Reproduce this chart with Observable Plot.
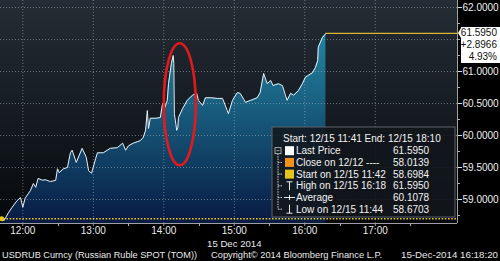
<!DOCTYPE html>
<html><head><meta charset="utf-8">
<script src="https://cdn.jsdelivr.net/npm/d3@7"></script>
<script src="https://cdn.jsdelivr.net/npm/@observablehq/plot@0.6"></script>
<style>
html,body{margin:0;padding:0;background:#000;overflow:hidden;}
svg{display:block;}
</style></head><body><div id="chart"></div>
<script>
// ---- data ----
const times = ["11:42","11:44","11:48","11:51","11:55","11:58","12:00","12:02","12:06:30","12:09","12:11","12:13","12:17","12:19","12:23:30","12:28","12:29:30","12:31","12:34:30","12:38","12:40:30","12:42","12:45:30","12:50:30","12:54","12:56","12:58:30","13:02","13:03:30","13:08:30","13:14:30","13:20:30","13:25","13:27:30","13:30","13:34","13:40","13:42:30","13:44:30","13:46","13:47","13:48:30","13:53","13:57","13:59","14:00","14:03","14:04","14:06:30","14:08","14:08:30","14:09","14:11","14:12","14:12:30","14:16","14:20","14:24:30","14:28","14:29:30","14:33","14:35:30","14:40","14:45:30","14:50","14:54","14:55","14:58:30","15:02:30","15:05","15:09:30","15:14","15:19:30","15:22","15:25","15:28","15:31","15:33","15:37:30","15:41","15:43:30","15:45","15:48","15:50:30","15:54:30","15:58","16:00:30","16:03","16:06:30","16:09","16:11","16:11:30","16:15","16:18"];
const prices = [58.70,58.67,58.80,58.88,58.98,59.03,58.88,59.02,59.14,59.25,59.19,59.33,59.30,59.31,59.28,59.30,59.48,59.42,59.48,59.50,59.73,59.77,59.58,59.80,59.66,59.45,59.41,59.64,59.73,59.73,59.80,59.81,59.88,59.77,59.84,59.88,59.92,59.97,60.08,60.39,60.11,60.27,60.27,60.28,60.50,60.39,60.55,60.81,61.13,61.25,61.13,60.34,60.08,60.13,60.28,60.42,60.55,60.63,60.66,60.55,60.47,60.59,60.59,60.58,60.58,60.39,60.34,60.55,60.67,60.66,60.52,60.55,60.59,60.67,60.97,60.81,60.86,60.78,60.81,60.78,60.63,60.55,60.66,60.63,60.70,60.81,60.91,60.94,60.98,61.06,61.17,61.38,61.53,61.595];

const xDomainStart = "11:41", xDomainEnd = "18:10";
const yDomain = [58.625, 62.11];
const hourTicks = ["12:00","13:00","14:00","15:00","16:00","17:00"];
const halfHourTicks = ["12:30","13:30","14:30","15:30","16:30","17:30"];
const yGrid = [59, 59.5, 60, 60.5, 61, 61.5, 62];
const yLabelTicks = [59, 59.5, 60, 60.5, 61, 62];   // 61.5 is hidden by the last-price callout
const yMinorTicks = [58.75, 59.25, 59.75, 60.25, 60.75, 61.25, 61.5, 61.75];

const lastPrice = 61.5950, lastTime = "16:18";
const startPrice = 58.6984;
const changeText = ["61.5950", "+2.8966", "4.93%"];
const legendHeader = "Start: 12/15 11:41 End: 12/15 18:10";
const legendLabels = ["Last Price", "Close on 12/12 ----", "Start on 12/15 11:42", "High on 12/15 16:18", "Average", "Low on 12/15 11:44"];
const legendValues = ["61.5950", "58.0139", "58.6984", "61.5950", "60.1078", "58.6703"];
const legendSwatches = ["#ffffff", "#f39218", "#e3c21c", null, null, null];
const dateLabel = "15 Dec 2014";
const footerLeft = "USDRUB Curncy (Russian Ruble SPOT (TOM))";
const footerMid = "Copyright\u00a9 2014 Bloomberg Finance L.P.";
const footerRight = "15-Dec-2014 16:18:20";
const spikeCenter = {t: "14:14", v: 60.48};

// ---- helpers ----
const parseT = s => { const [h, m, sec = 0] = s.split(":").map(Number); return new Date(Date.UTC(2014, 11, 15, h, m, sec)); };
const data = times.map((t, i) => ({t: parseT(t), v: prices[i]}));
const X0 = parseT(xDomainStart), X1 = parseT(xDomainEnd);
const FONT = "'Liberation Sans', Arial, sans-serif";

function background(index, scales, values, dim) {
  const g = d3.create("svg:g");
  const defs = g.append("defs");
  const bg = defs.append("linearGradient").attr("id", "bgGrad").attr("x1", 0).attr("y1", 0).attr("x2", 0).attr("y2", 1);
  bg.append("stop").attr("offset", 0).attr("stop-color", "#242c35");
  bg.append("stop").attr("offset", 0.55).attr("stop-color", "#141a20");
  bg.append("stop").attr("offset", 1).attr("stop-color", "#06080a");
  const ag = defs.append("linearGradient").attr("id", "areaGrad").attr("gradientUnits", "userSpaceOnUse")
    .attr("x1", 0).attr("x2", 0).attr("y1", dim.marginTop + 25).attr("y2", dim.height - dim.marginBottom);
  ag.append("stop").attr("offset", 0).attr("stop-color", "#2389a3");
  ag.append("stop").attr("offset", 0.45).attr("stop-color", "#175a7c");
  ag.append("stop").attr("offset", 1).attr("stop-color", "#081a42");
  g.append("rect").attr("x", dim.marginLeft).attr("y", dim.marginTop)
    .attr("width", dim.width - dim.marginLeft - dim.marginRight)
    .attr("height", dim.height - dim.marginTop - dim.marginBottom)
    .attr("fill", "url(#bgGrad)");
  return g.node();
}

// minor tick marks on both axes (no labels)
function minorTicks(index, scales, values, dim) {
  const g = d3.create("svg:g").attr("stroke", "#b0b0b0").attr("fill", "none");
  const bottom = dim.height - dim.marginBottom, right = dim.width - dim.marginRight;
  halfHourTicks.forEach(t => { const x = Math.round(scales.x(parseT(t))) + 0.5; g.append("line").attr("x1", x).attr("x2", x).attr("y1", bottom).attr("y2", bottom + 3); });
  yMinorTicks.forEach(v => { const y = Math.round(scales.y(v)) + 0.5; g.append("line").attr("x1", right).attr("x2", right + 3).attr("y1", y).attr("y2", y); });
  return g.node();
}

function ellipseMark(index, scales) {
  return d3.create("svg:ellipse")
    .attr("cx", scales.x(parseT(spikeCenter.t)))
    .attr("cy", scales.y(spikeCenter.v))
    .attr("rx", 16).attr("ry", 61)
    .attr("fill", "none").attr("stroke", "#e3191c").attr("stroke-width", 2.6).node();
}

function legendMark(index, scales, values, dim) {
  const right = dim.width - dim.marginRight - 2;
  const bottom = dim.height - dim.marginBottom - 6;
  const w = 183, h = 90;
  const L = right - w, T = bottom - h;
  const g = d3.create("svg:g").attr("font-family", FONT).attr("font-size", 10).attr("fill", "#f2f2f2").attr("text-anchor", "start");
  g.append("rect").attr("x", L).attr("y", T).attr("width", w).attr("height", h)
    .attr("fill", "#12171d").attr("fill-opacity", 0.88).attr("stroke", "#5c6268").attr("stroke-width", 1);
  g.append("text").attr("x", L + 11).attr("y", T + 11.5).attr("dy", "0.35em").attr("text-anchor", "start").text(legendHeader);
  const rowY = i => T + 23.7 + i * 11.7;
  const tx = L + 6;
  g.append("line").attr("x1", tx).attr("x2", tx).attr("y1", rowY(0) + 3).attr("y2", rowY(5))
    .attr("stroke", "#cfcfcf").attr("stroke-dasharray", "1.5,1");
  g.append("rect").attr("x", tx - 3).attr("y", rowY(0) - 3).attr("width", 6).attr("height", 6)
    .attr("fill", "#12171d").attr("stroke", "#cfcfcf").attr("stroke-width", 0.8);
  g.append("line").attr("x1", tx - 1.5).attr("x2", tx + 1.5).attr("y1", rowY(0)).attr("y2", rowY(0)).attr("stroke", "#cfcfcf").attr("stroke-width", 0.8);
  legendLabels.forEach((lab, i) => {
    const y = rowY(i);
    if (i > 0) g.append("line").attr("x1", tx).attr("x2", tx + 4).attr("y1", y).attr("y2", y).attr("stroke", "#cfcfcf").attr("stroke-dasharray", "1.5,1");
    if (legendSwatches[i]) {
      g.append("rect").attr("x", L + 13).attr("y", y - 4.5).attr("width", 9).attr("height", 9).attr("fill", legendSwatches[i]);
    } else if (i === 3) {
      g.append("path").attr("d", `M${L+14.5},${y-4}H${L+20.5}M${L+17.5},${y-4}V${y+4.5}`).attr("stroke", "#e8e8e8").attr("fill", "none");
    } else if (i === 4) {
      g.append("path").attr("d", `M${L+12},${y}H${L+23}M${L+17.5},${y-2.5}V${y+2.5}`).attr("stroke", "#e8e8e8").attr("fill", "none");
    } else if (i === 5) {
      g.append("path").attr("d", `M${L+14.5},${y+4}H${L+20.5}M${L+17.5},${y+4}V${y-4.5}`).attr("stroke", "#e8e8e8").attr("fill", "none");
    }
    g.append("text").attr("x", L + 24).attr("y", y).attr("dy", "0.35em").attr("text-anchor", "start").text(lab);
    g.append("text").attr("x", L + 121).attr("y", y).attr("dy", "0.35em").attr("text-anchor", "start").text(legendValues[i]);
  });
  return g.node();
}

function calloutMark(index, scales, values, dim) {
  const ax = dim.width - dim.marginRight;
  const yy = scales.y(lastPrice);
  const g = d3.create("svg:g").attr("font-family", FONT).attr("font-size", 10).attr("fill", "#111");
  g.append("path").attr("d", `M${ax + 1},${yy} L${ax + 4},${yy - 5} V${yy - 6} H${ax + 43} V${yy + 30} H${ax + 4} V${yy + 5} Z`)
    .attr("fill", "#ffffff");
  changeText.forEach((s, i) => {
    g.append("text").attr("x", ax + 40).attr("y", yy + i * 11.6).attr("dy", "0.35em").attr("text-anchor", "end").text(s);
  });
  return g.node();
}

// footer line drawn in pixel layout below the axis
function footerMark(index, scales, values, dim) {
  const y = dim.height - 3.5;
  const g = d3.create("svg:g").attr("font-family", FONT).attr("font-size", 9.6).attr("fill", "#e8e8e8");
  const parts = [[footerLeft, 2, 195], [footerMid, 211, 171], [footerRight, 401, 97]];
  parts.forEach(([s, x, len]) => {
    g.append("text").attr("x", x).attr("y", y).attr("text-anchor", "start")
      .attr("textLength", len).attr("lengthAdjust", "spacingAndGlyphs").text(s);
  });
  return g.node();
}

const yMinVal = yDomain[0];
const chart = Plot.plot({
  width: 500, height: 261,
  marginTop: 0, marginRight: 43, marginBottom: 38, marginLeft: 0,
  style: {background: "#000", color: "#e8e8e8", fontFamily: FONT, overflow: "visible"},
  x: {type: "utc", domain: [X0, X1], axis: null, label: null},
  y: {domain: yDomain, axis: null, label: null},
  marks: [
    background,
    Plot.areaY(data, {x: "t", y1: yMinVal, y2: "v", fill: "url(#areaGrad)"}),
    Plot.ruleX(hourTicks.map(parseT), {stroke: "#a9b3bd", strokeOpacity: 0.55, strokeDasharray: "1,2"}),
    Plot.ruleY(yGrid, {stroke: "#a9b3bd", strokeOpacity: 0.55, strokeDasharray: "1,2"}),
    Plot.ruleY([startPrice], {stroke: "#e6c619", strokeWidth: 1.6, strokeDasharray: "1.6,1.6"}),
    Plot.lineY(data, {x: "t", y: "v", stroke: "#e9f0f4", strokeWidth: 1}),
    Plot.ruleY([lastPrice], {x1: parseT(lastTime), x2: X1, stroke: "#d8b632", strokeWidth: 1.3}),
    Plot.dot([data[0]], {x: "t", y: "v", r: 2.5, fill: "#e6c619"}),
    Plot.ruleY([yMinVal], {stroke: "#a0a0a0", strokeWidth: 1}),
    Plot.ruleX([X1], {stroke: "#a0a0a0", strokeWidth: 1}),
    Plot.axisX(hourTicks.map(parseT), {anchor: "bottom", label: null, tickSize: 3, tickPadding: 0, tickFormat: d3.utcFormat("%H:%M"), fontSize: 10, stroke: "#9a9a9a", fill: "#e8e8e8"}),
    Plot.axisY(yLabelTicks, {anchor: "right", label: null, tickSize: 4, tickPadding: 1, tickFormat: d => d.toFixed(4), fontSize: 10, stroke: "#e0e0e0", fill: "#eeeeee"}),
    minorTicks,
    ellipseMark,
    legendMark,
    calloutMark,
    Plot.text([dateLabel], {x: () => parseT("15:00"), frameAnchor: "bottom", lineAnchor: "middle", dy: 20, fontSize: 9.6, fill: "#e8e8e8"}),
    footerMark
  ]
});
document.getElementById("chart").appendChild(chart);
</script></body></html>
